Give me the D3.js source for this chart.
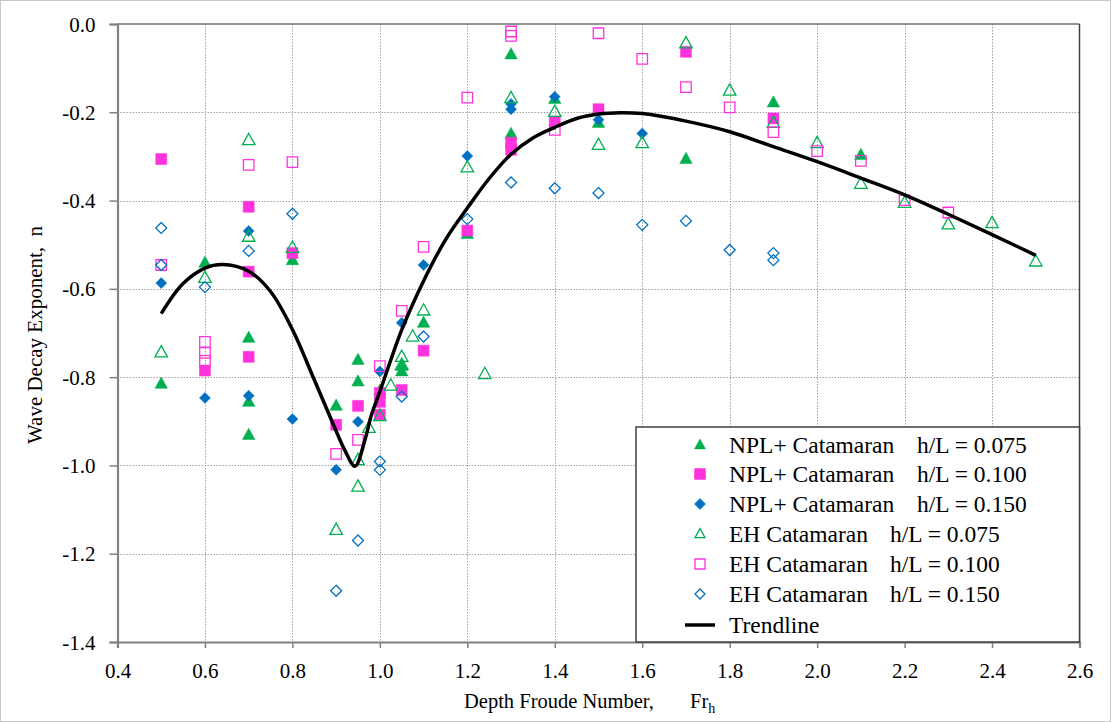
<!DOCTYPE html>
<html><head><meta charset="utf-8">
<script src="https://cdn.jsdelivr.net/npm/d3@7"></script>
<style>body{margin:0;background:#fff}svg{display:block}text{font-family:"Liberation Serif","Times New Roman",serif;fill:#000}</style>
</head><body>
<svg id="c" width="1111" height="722"></svg>
<script>
const xTicks = [0.4,0.6,0.8,1.0,1.2,1.4,1.6,1.8,2.0,2.2,2.4,2.6];
const yTicks = [0.0,-0.2,-0.4,-0.6,-0.8,-1.0,-1.2,-1.4];

const npl075 = [[0.5,-0.815],[0.6,-0.541],[0.7,-0.711],[0.7,-0.856],[0.7,-0.931],[0.8,-0.535],[0.9,-0.865],[0.95,-0.761],[0.95,-0.81],[1.0,-0.83],[1.05,-0.775],[1.05,-0.787],[1.1,-0.677],[1.2,-0.476],[1.3,-0.069],[1.3,-0.249],[1.4,-0.170],[1.5,-0.224],[1.7,-0.306],[1.9,-0.178],[2.1,-0.297]];
const npl100 = [[0.5,-0.306],[0.6,-0.785],[0.7,-0.414],[0.7,-0.561],[0.7,-0.754],[0.8,-0.519],[0.9,-0.908],[0.95,-0.865],[1.0,-0.836],[1.0,-0.856],[1.0,-0.885],[1.05,-0.829],[1.1,-0.74],[1.2,-0.468],[1.3,-0.269],[1.3,-0.285],[1.4,-0.221],[1.5,-0.193],[1.7,-0.063],[1.9,-0.214]];
const npl150 = [[0.5,-0.587],[0.6,-0.847],[0.7,-0.469],[0.7,-0.842],[0.8,-0.895],[0.9,-1.01],[0.95,-0.901],[1.0,-0.787],[1.05,-0.677],[1.1,-0.546],[1.2,-0.299],[1.3,-0.181],[1.3,-0.193],[1.4,-0.165],[1.5,-0.217],[1.6,-0.248]];
const eh075 = [[0.5,-0.744],[0.6,-0.575],[0.7,-0.263],[0.7,-0.482],[0.8,-0.507],[0.9,-1.146],[0.95,-1.048],[0.95,-0.988],[0.975,-0.915],[1.0,-0.888],[1.025,-0.819],[1.05,-0.754],[1.05,-0.772],[1.075,-0.708],[1.1,-0.649],[1.2,-0.325],[1.24,-0.793],[1.3,-0.168],[1.4,-0.199],[1.5,-0.274],[1.6,-0.27],[1.7,-0.044],[1.8,-0.151],[1.9,-0.224],[2.0,-0.27],[2.1,-0.362],[2.2,-0.405],[2.3,-0.454],[2.4,-0.451],[2.5,-0.538]];
const eh100 = [[0.5,-0.546],[0.6,-0.72],[0.6,-0.745],[0.6,-0.763],[0.7,-0.319],[0.8,-0.313],[0.9,-0.974],[0.95,-0.942],[1.0,-0.775],[1.05,-0.65],[1.1,-0.505],[1.2,-0.167],[1.3,-0.017],[1.3,-0.027],[1.4,-0.24],[1.5,-0.021],[1.6,-0.079],[1.7,-0.143],[1.8,-0.189],[1.9,-0.245],[2.0,-0.288],[2.1,-0.31],[2.2,-0.399],[2.3,-0.427]];
const eh150 = [[0.5,-0.462],[0.5,-0.546],[0.6,-0.596],[0.7,-0.514],[0.8,-0.43],[0.9,-1.284],[0.95,-1.17],[1.0,-0.991],[1.0,-1.01],[1.05,-0.844],[1.1,-0.708],[1.2,-0.442],[1.3,-0.359],[1.4,-0.372],[1.5,-0.383],[1.6,-0.455],[1.7,-0.446],[1.8,-0.512],[1.9,-0.519],[1.9,-0.535]];
const trend = [[0.5,-0.656],[0.55,-0.588],[0.6,-0.553],[0.64,-0.545],[0.7,-0.56],[0.75,-0.606],[0.8,-0.692],[0.85,-0.806],[0.9,-0.922],[0.92,-0.966],[0.943,-1.002],[0.966,-0.942],[0.98,-0.888],[1.0,-0.833],[1.05,-0.693],[1.1,-0.582],[1.15,-0.489],[1.2,-0.417],[1.25,-0.35],[1.3,-0.295],[1.35,-0.258],[1.4,-0.234],[1.45,-0.214],[1.5,-0.204],[1.55,-0.201],[1.6,-0.203],[1.7,-0.22],[1.8,-0.244],[1.9,-0.278],[2.0,-0.312],[2.1,-0.349],[2.2,-0.387],[2.3,-0.431],[2.4,-0.477],[2.5,-0.524]];

const seriesNames = ["NPL+ Catamaran","NPL+ Catamaran","NPL+ Catamaran","EH Catamaran","EH Catamaran","EH Catamaran"];
const seriesHL = ["h/L = 0.075","h/L = 0.100","h/L = 0.150","h/L = 0.075","h/L = 0.100","h/L = 0.150"];
const trendName = "Trendline";

const GREEN="#00b050", PINK="#ff33dd", BLUE="#0070c0";
const series = [
  {data:npl075, shape:"tri", fill:true, color:GREEN},
  {data:npl100, shape:"sq", fill:true, color:PINK},
  {data:npl150, shape:"dia", fill:true, color:BLUE},
  {data:eh075, shape:"tri", fill:false, color:GREEN},
  {data:eh100, shape:"sq", fill:false, color:PINK},
  {data:eh150, shape:"dia", fill:false, color:BLUE}
];

const svg = d3.select("#c");
const L=117.5, R=1079.5, T=24, B=642;
const x = d3.scaleLinear().domain([0.4,2.6]).range([L,R]);
const y = d3.scaleLinear().domain([-1.4,0]).range([B,T]);

svg.append("rect").attr("x",0.5).attr("y",0.5).attr("width",1110).attr("height",721).attr("fill","#fff").attr("stroke","#c8c8c8");

const g = svg.append("g");
g.selectAll(".vx").data(xTicks.slice(1,-1)).enter().append("line")
  .attr("x1",d=>Math.round(x(d))+0.5).attr("x2",d=>Math.round(x(d))+0.5).attr("y1",T).attr("y2",B)
  .attr("stroke","#a0a0a0").attr("stroke-width",1).attr("stroke-dasharray","1.5,1.5");
g.selectAll(".hy").data(yTicks.slice(1,-1)).enter().append("line")
  .attr("y1",d=>Math.round(y(d))+0.5).attr("y2",d=>Math.round(y(d))+0.5).attr("x1",L).attr("x2",R)
  .attr("stroke","#a0a0a0").attr("stroke-width",1).attr("stroke-dasharray","1.5,1.5");

svg.append("line").attr("x1",L).attr("x2",R).attr("y1",T).attr("y2",T).attr("stroke","#707070").attr("stroke-width",1.5);
svg.append("line").attr("x1",R).attr("x2",R).attr("y1",T).attr("y2",B).attr("stroke","#404040").attr("stroke-width",1.5);

const xAxis = d3.axisBottom(x).tickValues(xTicks).tickSize(6).tickFormat(d3.format(".1f"));
const yAxis = d3.axisLeft(y).tickValues(yTicks).tickSize(8).tickFormat(d3.format(".1f"));
const gx = svg.append("g").attr("transform",`translate(0,${B})`).call(xAxis);
const gy = svg.append("g").attr("transform",`translate(${L},0)`).call(yAxis);
[gx,gy].forEach(a=>{
  a.select(".domain").attr("stroke","#808080").attr("stroke-width",2.2);
  a.selectAll(".tick line").attr("stroke","#808080").attr("stroke-width",1.5);
  a.selectAll(".tick text").attr("font-family","Liberation Serif").attr("font-size",21).attr("fill","#000");
});
gx.selectAll(".tick text").attr("dy",null).attr("y",36);
gy.selectAll(".tick text").attr("x",-22).attr("dy","0.34em");
gy.selectAll(".tick text").text(d=>d===0?"0.0":d3.format(".1f")(d).replace("−","-"));

function symPath(shape, s){
  if(shape==="tri"){ const h=s*0.9; return `M0,${-h*0.6}L${s/2},${h*0.4}L${-s/2},${h*0.4}Z`; }
  if(shape==="sq"){ const a=s/2; return `M${-a},${-a}H${a}V${a}H${-a}Z`; }
  const a=s/2; return `M0,${-a}L${a},0L0,${a}L${-a},0Z`;
}
const sizes = {tri:12.5, sq:11, dia:11};
const sizesO = {tri:12.5, sq:10.5, dia:11};

const plotG = svg.append("g");
series.forEach(s=>{
  plotG.append("g").selectAll("path").data(s.data).enter().append("path")
    .attr("transform",d=>`translate(${x(d[0])},${y(d[1])})`)
    .attr("d",symPath(s.shape, s.fill?sizes[s.shape]:sizesO[s.shape]))
    .attr("fill",s.fill?s.color:"none")
    .attr("stroke",s.color).attr("stroke-width",s.fill?0.5:1.3);
});

const line = d3.line().x(d=>x(d[0])).y(d=>y(d[1])).curve(d3.curveCatmullRom.alpha(0.5));
svg.append("path").datum(trend).attr("d",line).attr("fill","none").attr("stroke","#000").attr("stroke-width",3.5).attr("stroke-linejoin","round");

const lg = svg.append("g");
lg.append("rect").attr("x",636).attr("y",427).attr("width",R-636).attr("height",B-427).attr("fill","#fff").attr("stroke","#404040").attr("stroke-width",1.5);
const rowY = [445,474,504,534,564,594,625];
series.forEach((s,i)=>{
  lg.append("path").attr("transform",`translate(700,${rowY[i]})`).attr("d",symPath(s.shape, s.fill?11:10))
    .attr("fill",s.fill?s.color:"none").attr("stroke",s.color).attr("stroke-width",s.fill?0.5:1.3);
  lg.append("text").attr("x",729).attr("y",rowY[i]).attr("dy","0.35em").attr("font-size",23.5).text(seriesNames[i]);
  lg.append("text").attr("x",i<3?917:890).attr("y",rowY[i]).attr("dy","0.35em").attr("font-size",23.5).text(seriesHL[i]);
});
lg.append("line").attr("x1",685).attr("x2",715).attr("y1",rowY[6]).attr("y2",rowY[6]).attr("stroke","#000").attr("stroke-width",3.5);
lg.append("text").attr("x",729).attr("y",rowY[6]).attr("dy","0.35em").attr("font-size",23.5).text(trendName);

svg.append("text").attr("x",464).attr("y",708).attr("font-size",20.5).text("Depth Froude Number,");
const fr = svg.append("text").attr("x",690).attr("y",708).attr("font-size",20.5);
fr.append("tspan").text("Fr");
fr.append("tspan").attr("font-size",14).attr("dy",5).text("h");
svg.append("text").attr("transform","translate(42,335) rotate(-90)").attr("text-anchor","middle").attr("font-size",21)
  .text("Wave Decay Exponent,\u00a0\u00a0n");
</script>
</body></html>
